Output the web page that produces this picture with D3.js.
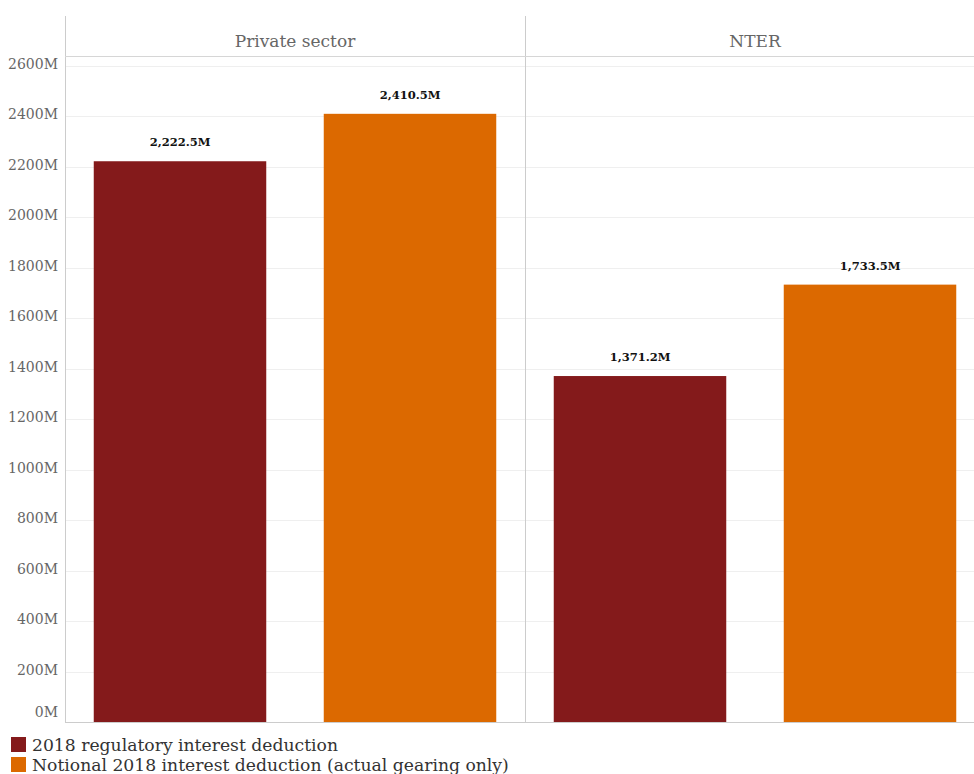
<!DOCTYPE html>
<meta charset="utf-8">
<style>
body, html { margin: 0; padding: 0; overflow: hidden; background: #fff; }
svg { display: block; font-family: "DejaVu Serif", serif; }
.grid line { stroke: #efefef; }
</style>
<svg width="974" height="774"></svg>
<script src="https://cdnjs.cloudflare.com/ajax/libs/d3/7.8.5/d3.min.js"></script>
<script>

var panels = ["Private sector", "NTER"];
var series = ["2018 regulatory interest deduction", "Notional 2018 interest deduction (actual gearing only)"];
var regulatory = [2222.5, 1371.2];
var notional = [2410.5, 1733.5];
var yTicks = [0, 200, 400, 600, 800, 1000, 1200, 1400, 1600, 1800, 2000, 2200, 2400, 2600];
var colors = ["#841a1b", "#dc6900"];

var svg = d3.select("svg");

var plotLeft = 65, plotTop = 16, headerBottom = 56, plotBottom = 722, panelW = 460;

var y = d3.scaleLinear().domain([0, 2600]).range([plotBottom, 66]);

var px = d3.scaleBand().domain(panels).range([plotLeft, plotLeft + panelW * 2]);
var bx = d3.scaleBand().domain(series).range([0, panelW]).paddingInner(0.25).paddingOuter(0.125);

// gridlines
svg.append("g").attr("class", "grid")
  .selectAll("line").data(yTicks.filter(function(d) { return d > 0; }))
  .enter().append("line")
  .attr("x1", plotLeft).attr("x2", 974)
  .attr("y1", function(d) { return Math.round(y(d)) + 0.5; })
  .attr("y2", function(d) { return Math.round(y(d)) + 0.5; });

// y labels (0M sits a bit higher, above the base line)
svg.append("g").selectAll("text").data(yTicks)
  .enter().append("text")
  .attr("x", 58)
  .attr("y", function(d) { return y(d) + (d === 0 ? -5 : 3); })
  .attr("text-anchor", "end")
  .attr("fill", "#666")
  .style("font-size", "14px")
  .text(function(d) { return d + "M"; });

// panel frames
svg.append("line").attr("x1", plotLeft + 0.5).attr("x2", plotLeft + 0.5).attr("y1", plotTop).attr("y2", plotBottom)
  .attr("stroke", "#ccc");
svg.append("line").attr("x1", px("NTER") + 0.5).attr("x2", px("NTER") + 0.5).attr("y1", plotTop).attr("y2", plotBottom)
  .attr("stroke", "#ccc");
svg.append("line").attr("x1", plotLeft).attr("x2", 974).attr("y1", headerBottom + 0.5).attr("y2", headerBottom + 0.5)
  .attr("stroke", "#d6d6d6");
svg.append("line").attr("x1", plotLeft).attr("x2", 974).attr("y1", plotBottom + 0.5).attr("y2", plotBottom + 0.5)
  .attr("stroke", "#ccc");

// panel titles
svg.append("g").selectAll("text").data(panels)
  .enter().append("text")
  .attr("x", function(d) { return px(d) + panelW / 2; })
  .attr("y", 47)
  .attr("text-anchor", "middle")
  .attr("fill", "#666")
  .style("font-size", "17px")
  .text(function(d) { return d; });

var rows = [];
panels.forEach(function(p, i) {
  rows.push({ panel: p, s: series[0], v: regulatory[i], c: colors[0] });
  rows.push({ panel: p, s: series[1], v: notional[i], c: colors[1] });
});

var bars = svg.append("g").selectAll("g").data(rows).enter().append("g")
  .attr("transform", function(d) { return "translate(" + px(d.panel) + ",0)"; });

bars.append("rect")
  .attr("x", function(d) { return bx(d.s); })
  .attr("width", bx.bandwidth())
  .attr("y", function(d) { return y(d.v); })
  .attr("height", function(d) { return plotBottom - y(d.v); })
  .attr("fill", function(d) { return d.c; });

bars.append("text")
  .attr("x", function(d) { return bx(d.s) + bx.bandwidth() / 2; })
  .attr("y", function(d) { return y(d.v) - 15; })
  .attr("text-anchor", "middle")
  .attr("fill", "#111")
  .style("font-size", "11.5px")
  .style("font-weight", "bold")
  .text(function(d) { return d3.format(",.1f")(d.v) + "M"; });

// legend
var lg = svg.append("g").selectAll("g").data(series).enter().append("g")
  .attr("transform", function(d, i) { return "translate(11," + (737 + i * 20) + ")"; });
lg.append("rect").attr("width", 15).attr("height", 15)
  .attr("fill", function(d, i) { return colors[i]; });
lg.append("text").attr("x", 21).attr("y", 14)
  .attr("fill", "#333")
  .style("font-size", "17.2px")
  .text(function(d) { return d; });

</script>
